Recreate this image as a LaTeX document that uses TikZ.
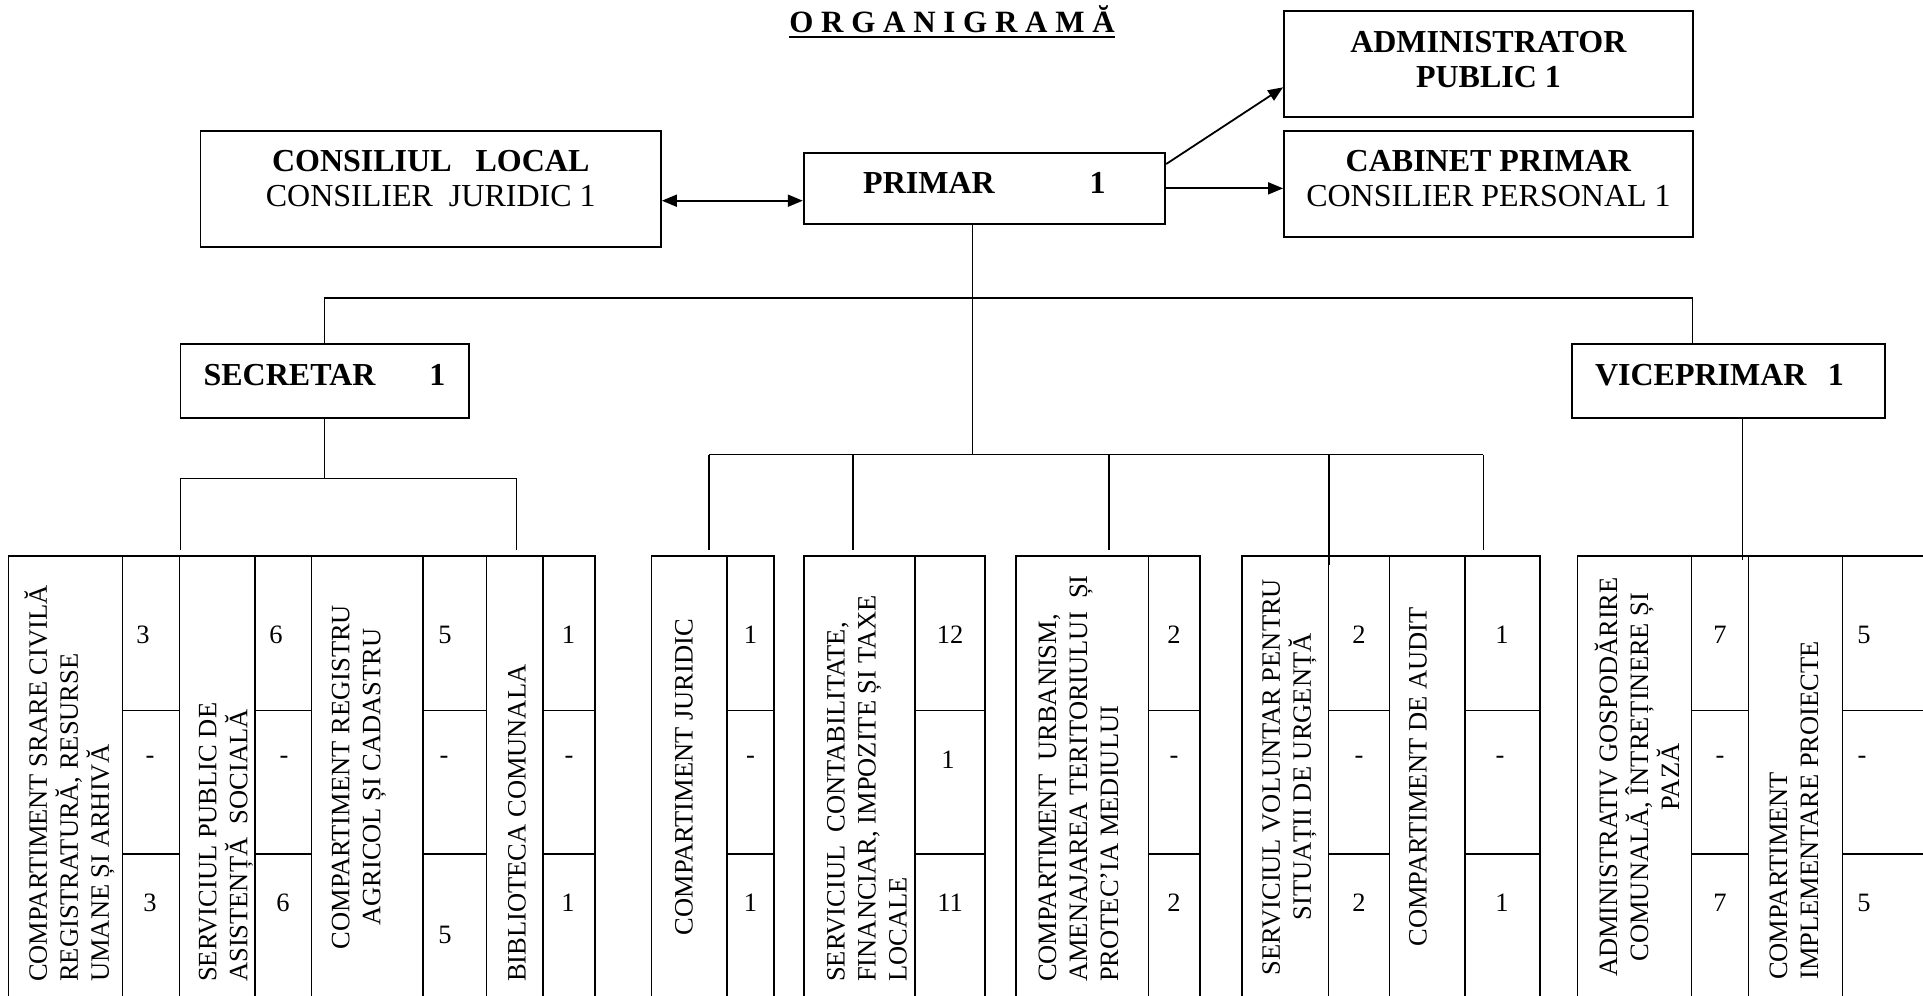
\documentclass[tikz,border=0pt]{standalone}
\usepackage{fontspec}
\setmainfont{Liberation Serif}
\usetikzlibrary{arrows.meta}

\tikzset{
  box/.style={draw, line width=1.8pt, inner sep=0pt, align=center, font=\fontsize{32}{35}\selectfont},
  conn/.style={line width=1.5pt},
  grid/.style={line width=1.2pt},
  cell/.style={rotate=90, inner sep=0pt, font=\fontsize{26.5}{31}\selectfont},
  num/.style={inner sep=0pt, font=\fontsize{26.5}{31}\selectfont}
}

\begin{document}
\begin{tikzpicture}[x=1pt, y=-1pt, >={Triangle[length=15pt, width=12pt]}]
\path [use as bounding box, fill=white] (0,0) rectangle (1923,996);

% Title
\node (title) [anchor=base, inner sep=0pt, font=\fontsize{31}{35}\selectfont\bfseries] at (952,32.3) {O R G A N I G R A M Ă};
\draw [line width=2pt] ([yshift=-4.7pt]title.base west) -- ([yshift=-4.7pt]title.base east);

% Nodes
\node (cons) [box, minimum width=460.5pt, text height=76pt, text depth=40.6pt] at (430.75,189) {\textbf{CONSILIUL\ \ \ LOCAL}\\CONSILIER\ \ JURIDIC 1};
\node (primar) [box, minimum width=361.6pt, text height=40.6pt, text depth=30.7pt] at (984.5,188.35) {\textbf{PRIMAR\hspace{95pt}1}};
\node (admin) [box, minimum width=409pt, text height=76.6pt, text depth=29.4pt] at (1488.5,63.7) {\textbf{ADMINISTRATOR}\\\textbf{PUBLIC 1}};
\node (cabinet) [box, minimum width=409pt, text height=76pt, text depth=30pt] at (1488.5,183.7) {\textbf{CABINET PRIMAR}\\CONSILIER PERSONAL 1};
\node (secretar) [box, minimum width=288.3pt, text height=41pt, text depth=33pt] at (324.55,381) {\textbf{SECRETAR\hspace{54pt}1}};
\node (vice) [box, minimum width=312.7pt, text width=267.3pt, inner xsep=22.7pt, align=left, text height=41pt, text depth=33pt] at (1728.65,381) {\textbf{VICEPRIMAR\ \ 1}};

% Arrows
\draw [<->, line width=1.8pt] ([yshift=-11.7pt]cons.east) -- ([yshift=-11.7pt]cons.east -| primar.west);
\draw [->, line width=1.8pt] ([yshift=24.35pt]primar.east) -- ([yshift=-23.6pt]admin.west);
\draw [->, line width=1.8pt] (primar.east) -- (primar.east -| cabinet.west);

% Tree
\coordinate (tl) at (324.55,298);
\coordinate (tr) at (1692.7,298);
\coordinate (pm) at (972.7,454.7);
\draw [conn] (secretar.north) -- (tl) -- (tr) -- (tr |- vice.north);
\draw [conn] (pm |- primar.south) -- (pm);

\coordinate (sm) at (324.55,478.7);
\coordinate (s1) at (180.4,550);
\coordinate (s2) at (516.6,550);
\draw [conn] (secretar.south) -- (sm);
\draw [conn] (s1) -- (s1 |- sm) -- (s2 |- sm) -- (s2);

\coordinate (p1) at (709.2,550);
\coordinate (p2) at (852.8,550);
\coordinate (p3) at (1109.2,550);
\coordinate (p4) at (1328.8,565);
\coordinate (p5) at (1483.4,550);
\draw [conn] (p1 |- pm) -- (p5 |- pm);
\foreach \p in {p1,p2,p3,p4,p5}
  \draw [conn] (\p |- pm) -- (\p);

\coordinate (v1) at (1742.7,560);
\draw [conn] (v1 |- vice.south) -- (v1);

% Tables
\foreach \a/\b in {8.5/122.7, 179.3/255, 311.7/423, 486.5/543, 651.5/727, 804/915, 1016/1148.7, 1242/1328.5, 1389.5/1465, 1577.7/1691.7, 1748.3/1842.7}
  \draw [grid] (\a,556) rectangle (\b,1002);
\foreach \a/\b in {122.7/179.3, 255/311.7, 423/486.5, 543/595, 727/774, 915/985, 1148.7/1200, 1328.5/1389.5, 1465/1540, 1691.7/1748.3, 1842.7/1960}
  \draw [grid] (\a,556) rectangle (\b,1002) (\a,710.5) -- (\b,710.5) (\a,854) -- (\b,854);

% Compartimente
\node (stare) [cell, anchor=west, align=left] at (69.5,982) {COMPARTIMENT SRARE CIVILĂ\\REGISTRATURĂ, RESURSE\\UMANE ȘI ARHIVĂ};
\node (asist) [cell, anchor=west, align=left] at (225.8,982) {SERVICIUL PUBLIC DE\\ASISTENȚĂ\ \ SOCIALĂ};
\node (agricol) [cell, align=center] at (359,777) {COMPARTIMENT REGISTRU\\AGRICOL ȘI CADASTRU};
\node (biblio) [cell, anchor=west, align=left] at (517,982) {BIBLIOTECA COMUNALA};
\node (juridic) [cell, align=center] at (684,777) {COMPARTIMENT JURIDIC};
\node (contab) [cell, anchor=west, align=left] at (867,982) {SERVICIUL\ \ CONTABILITATE,\\FINANCIAR, IMPOZITE ȘI TAXE\\LOCALE};
\node (urban) [cell, anchor=west, align=left] at (1078.5,982) {COMPARTIMENT\ \ URBANISM,\\AMENAJAREA TERITORIULUI\ \ ȘI\\PROTEC’IA MEDIULUI};
\node (urgenta) [cell, align=center] at (1289.4,777) {SERVICIUL VOLUNTAR PENTRU\\SITUAȚII DE URGENȚĂ};
\node (audit) [cell, align=center] at (1418,777) {COMPARTIMENT DE AUDIT};
\node (gosp) [cell, align=center] at (1637,777) {ADMINISTRATIV GOSPODĂRIRE\\COMUNALĂ, ÎNTREȚINERE ȘI\\PAZĂ};
\node (proiecte) [cell, anchor=west, align=left] at (1794,980) {COMPARTIMENT\\IMPLEMENTARE PROIECTE};

% Numbers
\foreach \x/\y/\t [count=\i] in {143/635/3, 276/635/6, 445/635/5, 568.4/635/1, 750.5/635/1, 950/635/12, 1174/635/2, 1359/635/2, 1502/635/1, 1720/635/7, 1864/635/5,
  150/760/-, 284/760/-, 444/760/-, 569/760/-, 750.5/760/-, 948/760/1, 1174/760/-, 1359/760/-, 1500/760/-, 1720/760/-, 1862/760/-,
  150/902.5/3, 283/902.5/6, 445/935/5, 568/902.5/1, 750.5/902.5/1, 950/902.5/11, 1174/902.5/2, 1359/902.5/2, 1502/902.5/1, 1720/902.5/7, 1864/902.5/5}
  \node (n\i) [num] at (\x,\y) {\t};

\end{tikzpicture}
\end{document}
